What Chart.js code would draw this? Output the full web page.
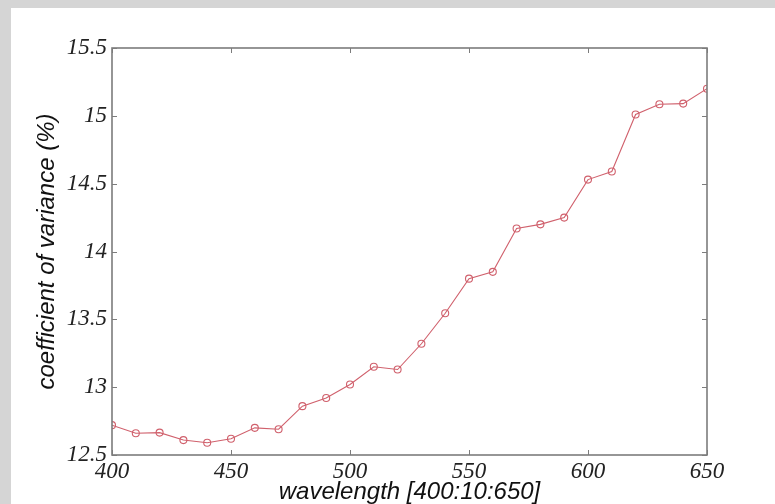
<!DOCTYPE html>
<html>
<head>
<meta charset="utf-8">
<title>coefficient of variance</title>
<script src="https://cdn.jsdelivr.net/npm/chart.js@4.4.1/dist/chart.umd.min.js"></script>
<style>
  html, body { margin: 0; padding: 0; background: #d5d5d5; }
  #wrap { width: 775px; height: 504px; position: relative; }
</style>
</head>
<body>
<div id="wrap"><canvas id="cvChart" width="775" height="504"></canvas></div>
<script>
// values
const wavelengths = [400, 410, 420, 430, 440, 450, 460, 470, 480, 490, 500, 510, 520,
  530, 540, 550, 560, 570, 580, 590, 600, 610, 620, 630, 640, 650];
const covValues = [12.72, 12.66, 12.665, 12.61, 12.59, 12.62, 12.70, 12.69, 12.86, 12.92, 13.02, 13.15, 13.13,
  13.32, 13.545, 13.80, 13.85, 14.17, 14.20, 14.25, 14.53, 14.59, 15.01, 15.085, 15.09, 15.20];
const xTicks = [400, 450, 500, 550, 600, 650];
const yTicks = [12.5, 13, 13.5, 14, 14.5, 15, 15.5];

const lineColor = "#d0606c";
const axisColor = "#7c7c7c";
const tickFont = { family: "'Times New Roman', 'Liberation Serif', 'DejaVu Serif', serif", style: "italic", size: 23, lineHeight: 1 };
const titleFont = { family: "'Liberation Sans', Arial, sans-serif", style: "italic", size: 24, lineHeight: 1 };

// page backdrop: grey border with a white panel
const panelPlugin = {
  id: "panel",
  beforeDraw: (chart) => {
    const { ctx, width, height } = chart;
    ctx.save();
    ctx.fillStyle = "#d5d5d5";
    ctx.fillRect(0, 0, width, height);
    ctx.fillStyle = "#ffffff";
    ctx.fillRect(11, 8, width - 11, height - 8);
    ctx.restore();
  },
};

// box around the plot with inward ticks on all four sides
const boxPlugin = {
  id: "box",
  afterDatasetsDraw: (chart) => {
    const { ctx, chartArea: a, scales } = chart;
    const len = 5;
    ctx.save();
    ctx.strokeStyle = axisColor;
    ctx.lineWidth = 1;
    ctx.beginPath();
    scales.x.ticks.forEach((t) => {
      const px = Math.round(scales.x.getPixelForValue(t.value)) + 0.5;
      ctx.moveTo(px, a.bottom);
      ctx.lineTo(px, a.bottom - len);
      ctx.moveTo(px, a.top);
      ctx.lineTo(px, a.top + len);
    });
    scales.y.ticks.forEach((t) => {
      const py = Math.round(scales.y.getPixelForValue(t.value)) + 0.5;
      ctx.moveTo(a.left, py);
      ctx.lineTo(a.left + len, py);
      ctx.moveTo(a.right, py);
      ctx.lineTo(a.right - len, py);
    });
    ctx.stroke();
    ctx.lineWidth = 1.6;
    ctx.strokeRect(a.left, a.top, a.right - a.left, a.bottom - a.top);
    ctx.restore();
  },
};

const points = wavelengths.map((w, i) => ({ x: w, y: covValues[i] }));

new Chart(document.getElementById("cvChart"), {
  type: "line",
  data: {
    datasets: [
      {
        data: points,
        borderColor: lineColor,
        borderWidth: 1.1,
        backgroundColor: "rgba(255,255,255,0)",
        pointBorderColor: lineColor,
        pointBackgroundColor: "rgba(255,255,255,0)",
        pointBorderWidth: 1.1,
        pointRadius: 3.5,
        tension: 0,
        fill: false,
      },
    ],
  },
  options: {
    responsive: false,
    animation: false,
    layout: { padding: { left: 0, top: 48, right: 68, bottom: 0 } },
    plugins: { legend: { display: false }, tooltip: { enabled: false } },
    scales: {
      x: {
        type: "linear",
        min: 400,
        max: 650,
        afterBuildTicks: (scale) => {
          scale.ticks = xTicks.map((v) => ({ value: v }));
        },
        afterFit: (scale) => {
          scale.height = 49;
        },
        grid: { display: false, drawTicks: false },
        border: { display: false },
        ticks: {
          font: tickFont,
          color: "#222",
          padding: 5,
          maxRotation: 0,
          autoSkip: false,
          callback: (v) => String(v),
        },
        title: {
          display: true,
          text: "wavelength [400:10:650]",
          font: titleFont,
          color: "#111",
          padding: { top: 0, bottom: 0 },
        },
      },
      y: {
        min: 12.5,
        max: 15.5,
        afterBuildTicks: (scale) => {
          scale.ticks = yTicks.map((v) => ({ value: v }));
        },
        afterFit: (scale) => {
          scale.width = 112;
        },
        grid: { display: false, drawTicks: false },
        border: { display: false },
        ticks: {
          font: tickFont,
          color: "#222",
          padding: 5,
          autoSkip: false,
          callback: (v) => String(v),
        },
        title: {
          display: true,
          text: "coefficient of variance (%)",
          font: titleFont,
          color: "#111",
          padding: { top: 35, bottom: 0 },
        },
      },
    },
  },
  plugins: [panelPlugin, boxPlugin],
});
</script>
</body>
</html>
